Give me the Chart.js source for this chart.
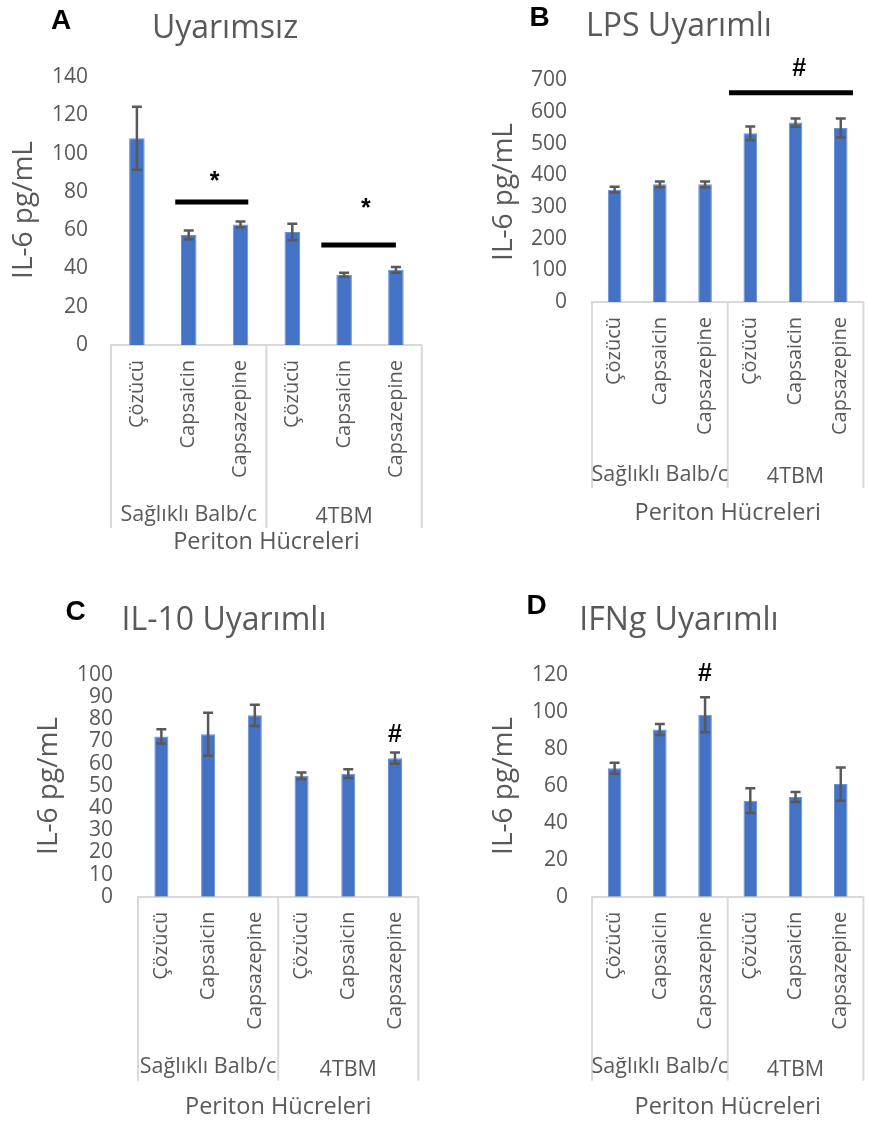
<!DOCTYPE html>
<html>
<head>
<meta charset="utf-8">
<title>IL-6 periton hücreleri</title>
<script src="https://cdn.jsdelivr.net/npm/chart.js@4.4.1/dist/chart.umd.min.js"></script>
<style>
html, body { margin: 0; padding: 0; background: #fff; }
body { position: relative; width: 870px; height: 1124px; overflow: hidden; }
.panel { position: absolute; }
</style>
</head>
<body>
<div class="panel" style="left:0px;top:0px"><canvas id="chartA" width="435" height="560"></canvas></div>
<div class="panel" style="left:435px;top:0px"><canvas id="chartB" width="445" height="540"></canvas></div>
<div class="panel" style="left:0px;top:570px"><canvas id="chartC" width="435" height="554"></canvas></div>
<div class="panel" style="left:435px;top:570px"><canvas id="chartD" width="445" height="554"></canvas></div>
<script>
// categories and groups (same for every panel)
var categories = ['Çözücü', 'Capsaicin', 'Capsazepine', 'Çözücü', 'Capsaicin', 'Capsazepine'];
var groups = ['Sağlıklı Balb/c', '4TBM'];
var groupSizes = [3, 3];
var yTitle = 'IL-6 pg/mL';
var xTitle = 'Periton Hücreleri';

// A - Uyarımsız
var valuesA = [108, 57.5, 63, 59, 36.7, 39.3];
var errorsA = [16.5, 2.3, 1.5, 4.3, 1, 1.5];
var ticksA = [0, 20, 40, 60, 80, 100, 120, 140];

// B - LPS Uyarımlı
var valuesB = [355, 372, 372, 533, 567, 550];
var errorsB = [9, 9, 9, 22, 13, 30];
var ticksB = [0, 100, 200, 300, 400, 500, 600, 700];

// C - IL-10 Uyarımlı
var valuesC = [72.3, 73.3, 81.8, 54.5, 55.5, 62.5];
var errorsC = [3.2, 9.7, 4.8, 1.5, 2, 2.5];
var ticksC = [0, 10, 20, 30, 40, 50, 60, 70, 80, 90, 100];

// D - IFNg Uyarımlı
var valuesD = [69.5, 90.5, 98.5, 52, 54, 61];
var errorsD = [3, 3, 9.5, 6.7, 2.7, 9];
var ticksD = [0, 20, 40, 60, 80, 100, 120];

// significance marks, in category index / data units
var barsA = [{from: 0.74, to: 2.15, y: 74.7}, {from: 3.56, to: 5.0, y: 52.2}];
var marksA = [{at: 1.5, y: 88.5, text: '*'}, {at: 4.42, y: 74.3, text: '*'}];
var barsB = [{from: 2.53, to: 5.27, y: 661}];
var marksB = [{at: 4.08, y: 743, text: '#'}];
var barsC = [];
var marksC = [{at: 5, y: 73.8, text: '#'}];
var barsD = [];
var marksD = [{at: 2, y: 121.4, text: '#'}];

var gray = '#595959';
var blue = '#4472C4';
var font = "'Open Sans', 'Noto Sans', sans-serif";

function centerText(ctx, txt, cx, cy) {
	var m = ctx.measureText(txt);
	ctx.fillText(txt, cx, cy + (m.actualBoundingBoxAscent - m.actualBoundingBoxDescent) / 2);
}

var decorPlugin = {
	id: 'decor',
	afterDatasetsDraw: function(chart, args, o) {
		var ctx = chart.ctx;
		var xs = chart.scales.x, ys = chart.scales.y, ca = chart.chartArea;
		var meta = chart.getDatasetMeta(0);
		ctx.save();

		// error bars
		ctx.strokeStyle = gray;
		ctx.lineWidth = 2.5;
		meta.data.forEach(function(bar, i) {
			var v = o.values[i], e = o.errors[i];
			var t = ys.getPixelForValue(v + e), b = ys.getPixelForValue(v - e);
			ctx.beginPath();
			ctx.moveTo(bar.x, t); ctx.lineTo(bar.x, b);
			ctx.moveTo(bar.x - 5, t); ctx.lineTo(bar.x + 5, t);
			ctx.moveTo(bar.x - 5, b); ctx.lineTo(bar.x + 5, b);
			ctx.stroke();
		});

		// significance lines and signs
		var step = xs.getPixelForValue(1) - xs.getPixelForValue(0);
		var px = function(idx) { return xs.getPixelForValue(0) + idx * step; };
		ctx.strokeStyle = '#000';
		ctx.lineWidth = 5;
		o.bars.forEach(function(s) {
			var yy = ys.getPixelForValue(s.y);
			ctx.beginPath();
			ctx.moveTo(px(s.from), yy); ctx.lineTo(px(s.to), yy);
			ctx.stroke();
		});
		ctx.fillStyle = '#000';
		ctx.font = 'bold 25px "Liberation Sans", Arial, sans-serif';
		ctx.textAlign = 'center';
		ctx.textBaseline = 'alphabetic';
		o.marks.forEach(function(m) {
			centerText(ctx, m.text, px(m.at), ys.getPixelForValue(m.y));
		});

		// group separators under the axis
		var edges = [xs.left];
		var n = 0;
		groupSizes.forEach(function(g) {
			n += g;
			edges.push(n < categories.length ? (px(n - 1) + px(n)) / 2 : xs.right);
		});
		ctx.strokeStyle = '#d9d9d9';
		ctx.lineWidth = 2;
		edges.forEach(function(e) {
			ctx.beginPath();
			ctx.moveTo(e, ca.bottom); ctx.lineTo(e, ca.bottom + o.sepLen);
			ctx.stroke();
		});

		// group labels
		ctx.fillStyle = gray;
		ctx.font = '21.5px ' + font;
		groups.forEach(function(g, i) {
			centerText(ctx, g, (edges[i] + edges[i + 1]) / 2, ca.bottom + o.groupDy);
		});

		// x axis title
		ctx.font = '23.5px ' + font;
		centerText(ctx, xTitle, (xs.left + xs.right) / 2, ca.bottom + o.xTitleDy);

		// y axis title
		ctx.save();
		ctx.translate(o.yTitlePos[0], o.yTitlePos[1]);
		ctx.rotate(-Math.PI / 2);
		ctx.font = '28px ' + font;
		centerText(ctx, yTitle, 0, 0);
		ctx.restore();

		// chart title
		ctx.font = '32px ' + font;
		ctx.fillText(o.title, o.titlePos[0], o.titlePos[1]);

		// panel letter
		ctx.fillStyle = '#000';
		ctx.font = 'bold 28px "Liberation Sans", Arial, sans-serif';
		centerText(ctx, o.letter, o.letterPos[0], o.letterPos[1]);

		ctx.restore();
	}
};

function makeChart(id, p) {
	var w = document.getElementById(id).width;
	var h = document.getElementById(id).height;
	new Chart(document.getElementById(id), {
		type: 'bar',
		data: {
			labels: categories,
			datasets: [{
				data: p.values,
				backgroundColor: blue,
				borderColor: '#6a8fd3',
				borderWidth: 1,
				barPercentage: 0.3,
				categoryPercentage: 1
			}]
		},
		options: {
			responsive: false,
			animation: false,
			layout: {padding: {top: p.area.top, right: w - p.area.right, bottom: 0, left: 0}},
			plugins: {
				legend: {display: false},
				tooltip: {enabled: false},
				decor: {
					values: p.values, errors: p.errors, bars: p.bars, marks: p.marks,
					sepLen: p.sepLen, groupDy: p.groupDy, xTitleDy: p.xTitleDy,
					yTitlePos: p.yTitlePos, title: p.title, titlePos: p.titlePos,
					letter: p.letter, letterPos: p.letterPos
				}
			},
			scales: {
				x: {
					offset: true,
					grid: {display: false, drawTicks: false},
					border: {display: true, color: '#d9d9d9', width: 2},
					ticks: {autoSkip: false, minRotation: 90, maxRotation: 90, padding: 15,
						color: gray, font: {family: font, size: 20}},
					afterFit: function(s) { s.height = h - p.area.bottom; }
				},
				y: {
					min: p.ticks[0],
					max: p.ticks[p.ticks.length - 1],
					afterBuildTicks: function(s) { s.ticks = p.ticks.map(function(v) { return {value: v}; }); },
					grid: {display: false, drawTicks: false},
					border: {display: false},
					ticks: {autoSkip: false, padding: p.tickPad, color: gray, font: {family: font, size: 21}},
					afterFit: function(s) { s.width = p.area.left; }
				}
			}
		},
		plugins: [decorPlugin]
	});
}

makeChart('chartA', {
	values: valuesA, errors: errorsA, ticks: ticksA, bars: barsA, marks: marksA,
	area: {left: 111, right: 434, top: 77, bottom: 345}, tickPad: 23,
	sepLen: 183, groupDy: 170, xTitleDy: 195,
	yTitlePos: [25, 210], title: 'Uyarımsız', titlePos: [225, 37.5],
	letter: 'A', letterPos: [61, 19]
});
makeChart('chartB', {
	values: valuesB, errors: errorsB, ticks: ticksB, bars: barsB, marks: marksB,
	area: {left: 157, right: 442, top: 80.5, bottom: 302}, tickPad: 25,
	sepLen: 186, groupDy: 173, xTitleDy: 209,
	yTitlePos: [70, 192], title: 'LPS Uyarımlı', titlePos: [244, 36],
	letter: 'B', letterPos: [104.5, 16.5]
});
makeChart('chartC', {
	values: valuesC, errors: errorsC, ticks: ticksC, bars: barsC, marks: marksC,
	area: {left: 138, right: 423, top: 105, bottom: 326.7}, tickPad: 25,
	sepLen: 184, groupDy: 171, xTitleDy: 208,
	yTitlePos: [50, 216], title: 'IL-10 Uyarımlı', titlePos: [224, 60],
	letter: 'C', letterPos: [75.5, 40.6]
});
makeChart('chartD', {
	values: valuesD, errors: errorsD, ticks: ticksD, bars: barsD, marks: marksD,
	area: {left: 157, right: 442, top: 105, bottom: 326.7}, tickPad: 24,
	sepLen: 184, groupDy: 171, xTitleDy: 208,
	yTitlePos: [70, 216], title: 'IFNg Uyarımlı', titlePos: [244, 60],
	letter: 'D', letterPos: [101.6, 34.5]
});
</script>
</body>
</html>
